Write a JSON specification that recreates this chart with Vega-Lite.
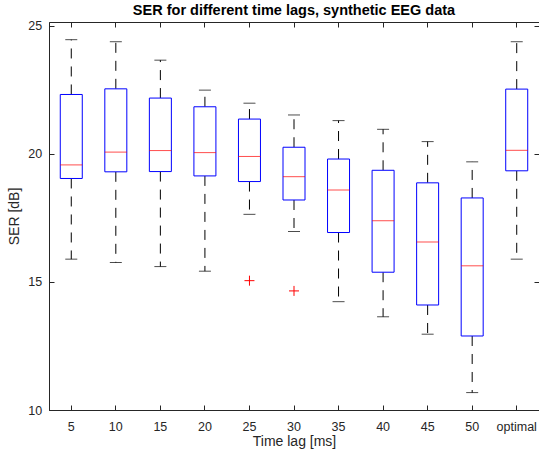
{
  "$schema": "https://vega.github.io/schema/vega-lite/v6.json",
  "width": 490,
  "height": 388,
  "autosize": {"type": "none"},
  "padding": {"left": 49, "top": 22, "right": 0, "bottom": 49},
  "background": "white",
  "config": {
    "view": {"stroke": "#262626", "strokeWidth": 1},
    "font": "Liberation Sans",
    "axis": {
      "domainColor": "#262626",
      "tickColor": "#262626",
      "labelColor": "#262626",
      "titleColor": "#262626",
      "labelFont": "Liberation Sans",
      "titleFont": "Liberation Sans",
      "labelFontSize": 12.5,
      "titleFontSize": 14,
      "titleFontWeight": "normal",
      "grid": false,
      "tickSize": -5,
      "domainWidth": 1,
      "tickWidth": 1
    }
  },
  "title": {
    "text": "SER for different time lags, synthetic EEG data",
    "font": "Liberation Sans",
    "fontSize": 14.5,
    "fontWeight": "bold",
    "color": "#000000",
    "anchor": "middle",
    "offset": 1
  },
  "datasets": {
    "boxes": [
      {"lag": "5", "lower": 15.89, "q1": 19.04, "median": 19.57, "q3": 22.32, "upper": 24.46},
      {"lag": "10", "lower": 15.76, "q1": 19.30, "median": 20.07, "q3": 22.54, "upper": 24.38},
      {"lag": "15", "lower": 15.60, "q1": 19.31, "median": 20.13, "q3": 22.18, "upper": 23.66},
      {"lag": "20", "lower": 15.42, "q1": 19.14, "median": 20.05, "q3": 21.84, "upper": 22.49},
      {"lag": "25", "lower": 17.64, "q1": 18.92, "median": 19.90, "q3": 21.36, "upper": 21.98},
      {"lag": "30", "lower": 16.97, "q1": 18.20, "median": 19.11, "q3": 20.26, "upper": 21.52},
      {"lag": "35", "lower": 14.23, "q1": 16.93, "median": 18.59, "q3": 19.80, "upper": 21.30},
      {"lag": "40", "lower": 13.64, "q1": 15.38, "median": 17.39, "q3": 19.36, "upper": 20.96},
      {"lag": "45", "lower": 12.96, "q1": 14.10, "median": 16.56, "q3": 18.87, "upper": 20.48},
      {"lag": "50", "lower": 10.68, "q1": 12.89, "median": 15.63, "q3": 18.28, "upper": 19.69},
      {"lag": "optimal", "lower": 15.89, "q1": 19.34, "median": 20.14, "q3": 22.53, "upper": 24.38}
    ],
    "outliers": [
      {"lag": "25", "value": 15.05},
      {"lag": "30", "value": 14.65}
    ]
  },
  "data": {"name": "boxes"},
  "resolve": {"scale": {"x": "independent", "y": "independent"}, "axis": {"x": "independent", "y": "independent"}},
  "layer": [
    {
      "mark": {"type": "rule", "color": "#000000", "strokeWidth": 1, "strokeDash": [10, 8]},
      "encoding": {
        "x": {
          "field": "lag", "type": "nominal", "sort": null,
          "scale": {"type": "band", "domain": ["5","10","15","20","25","30","35","40","45","50","optimal"], "paddingInner": 0, "paddingOuter": 0},
          "axis": {"orient": "bottom", "title": "Time lag [ms]", "labelAngle": 0, "labelPadding": 15, "titlePadding": 2}
        },
        "y": {
          "field": "q3", "type": "quantitative",
          "scale": {"domain": [10, 25.15], "nice": false, "zero": false},
          "axis": {"orient": "left", "title": "SER [dB]", "values": [10, 15, 20, 25], "labelPadding": 12.3, "titlePadding": 6}
        },
        "y2": {"field": "upper"}
      }
    },
    {
      "mark": {"type": "rule", "color": "#000000", "strokeWidth": 1, "strokeDash": [10, 8]},
      "encoding": {
        "x": {
          "field": "lag", "type": "nominal", "sort": null,
          "scale": {"type": "band", "domain": ["5","10","15","20","25","30","35","40","45","50","optimal"], "paddingInner": 0, "paddingOuter": 0},
          "axis": {"orient": "top", "title": null, "labels": false, "domain": false}
        },
        "y": {
          "field": "q1", "type": "quantitative",
          "scale": {"domain": [10, 25.15], "nice": false, "zero": false},
          "axis": {"orient": "right", "title": null, "labels": false, "domain": false, "values": [10, 15, 20, 25]}
        },
        "y2": {"field": "lower"}
      }
    },
    {
      "mark": {"type": "tick", "color": "#000000", "thickness": 1, "size": 12},
      "encoding": {
        "x": {"field": "lag", "type": "nominal", "sort": null, "axis": null,
          "scale": {"type": "band", "domain": ["5","10","15","20","25","30","35","40","45","50","optimal"], "paddingInner": 0, "paddingOuter": 0}},
        "y": {"field": "upper", "type": "quantitative", "axis": null,
          "scale": {"domain": [10, 25.15], "nice": false, "zero": false}}
      }
    },
    {
      "mark": {"type": "tick", "color": "#000000", "thickness": 1, "size": 12},
      "encoding": {
        "x": {"field": "lag", "type": "nominal", "sort": null, "axis": null,
          "scale": {"type": "band", "domain": ["5","10","15","20","25","30","35","40","45","50","optimal"], "paddingInner": 0, "paddingOuter": 0}},
        "y": {"field": "lower", "type": "quantitative", "axis": null,
          "scale": {"domain": [10, 25.15], "nice": false, "zero": false}}
      }
    },
    {
      "mark": {"type": "bar", "width": 22, "fill": "white", "stroke": "#0000ff", "strokeWidth": 1},
      "encoding": {
        "x": {"field": "lag", "type": "nominal", "sort": null, "axis": null,
          "scale": {"type": "band", "domain": ["5","10","15","20","25","30","35","40","45","50","optimal"], "paddingInner": 0, "paddingOuter": 0}},
        "y": {"field": "q1", "type": "quantitative", "axis": null,
          "scale": {"domain": [10, 25.15], "nice": false, "zero": false}},
        "y2": {"field": "q3"}
      }
    },
    {
      "mark": {"type": "tick", "color": "#ff0000", "thickness": 1, "size": 22},
      "encoding": {
        "x": {"field": "lag", "type": "nominal", "sort": null, "axis": null,
          "scale": {"type": "band", "domain": ["5","10","15","20","25","30","35","40","45","50","optimal"], "paddingInner": 0, "paddingOuter": 0}},
        "y": {"field": "median", "type": "quantitative", "axis": null,
          "scale": {"domain": [10, 25.15], "nice": false, "zero": false}}
      }
    },
    {
      "data": {"name": "outliers"},
      "mark": {"type": "point", "shape": "M-1,0L1,0M0,-1L0,1", "size": 100, "filled": false, "stroke": "#ff0000", "strokeWidth": 1, "opacity": 1},
      "encoding": {
        "x": {"field": "lag", "type": "nominal", "sort": null, "axis": null,
          "scale": {"type": "band", "domain": ["5","10","15","20","25","30","35","40","45","50","optimal"], "paddingInner": 0, "paddingOuter": 0}},
        "y": {"field": "value", "type": "quantitative", "axis": null,
          "scale": {"domain": [10, 25.15], "nice": false, "zero": false}}
      }
    }
  ]
}
